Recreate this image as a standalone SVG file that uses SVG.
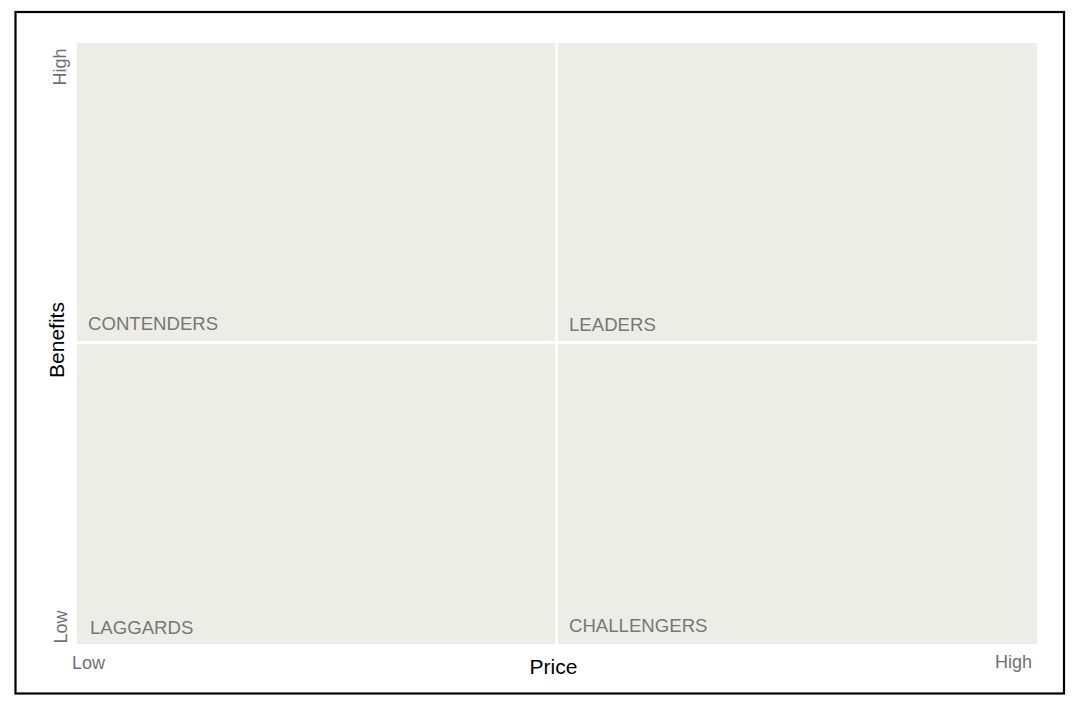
<svg xmlns="http://www.w3.org/2000/svg" width="1080" height="707" viewBox="0 0 1080 707">
<style>
.q{font-family:"Liberation Sans",Arial,sans-serif;font-size:18.6px;fill:#777}
.t{font-family:"Liberation Sans",Arial,sans-serif;font-size:18px;fill:#707070}
.ax{font-family:"Liberation Sans",Arial,sans-serif;font-size:21px;fill:#000}
</style>
<rect x="0" y="0" width="1080" height="707" fill="#fff"/>
<rect x="15.5" y="12" width="1048.5" height="681.5" fill="#fff" stroke="#000" stroke-width="2.2"/>
<g id="plot">
<rect x="77" y="43" width="960" height="601" fill="#EDEDE7"/>
</g>
<g id="connectors">
<line x1="556.5" y1="43" x2="556.5" y2="644" stroke="#fff" stroke-width="2.5"/>
<line x1="77" y1="342.5" x2="1037" y2="342.5" stroke="#fff" stroke-width="2.5"/>
</g>
<g id="contenders"><text class="q" x="88" y="329.5">CONTENDERS</text></g>
<g id="leaders"><text class="q" x="569" y="331">LEADERS</text></g>
<g id="laggards"><text class="q" x="90" y="634">LAGGARDS</text></g>
<g id="challengers"><text class="q" x="569" y="631.5">CHALLENGERS</text></g>
<g id="axes">
<text class="t" x="72" y="669">Low</text>
<text class="t" x="1032" y="668" text-anchor="end">High</text>
<text class="ax" x="553.5" y="674" text-anchor="middle">Price</text>
<text class="ax" transform="translate(63.5,340) rotate(-90)" text-anchor="middle">Benefits</text>
<text class="t" transform="translate(66,67) rotate(-90)" text-anchor="middle">High</text>
<text class="t" transform="translate(67,627) rotate(-90)" text-anchor="middle">Low</text>
</g>
</svg>
